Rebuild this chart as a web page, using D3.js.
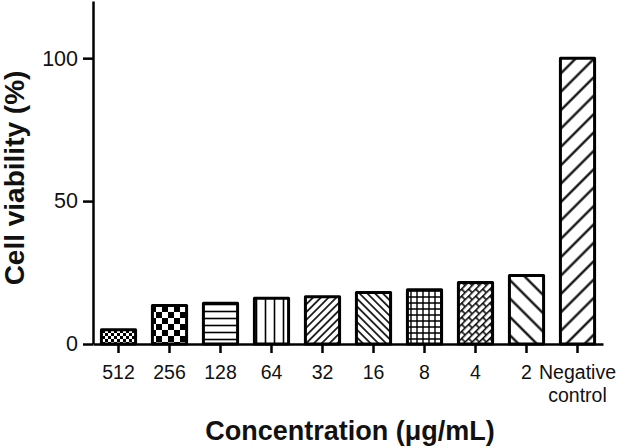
<!DOCTYPE html>
<html><head><meta charset="utf-8">
<script src="https://cdn.jsdelivr.net/npm/d3@7"></script>
<style>body{margin:0;background:#fff}svg{display:block}text{font-family:"Liberation Sans",Arial,sans-serif;fill:#111}</style>
</head><body><svg id="c" width="634" height="448"></svg>
<script>
const categories = ["512","256","128","64","32","16","8","4","2","Negative control"];
const viability = [5, 13.5, 14.3, 16, 16.5, 18, 19, 21.5, 24, 100];
const patternIds = ["chk3","chk6","hlines","vlines","diagR","diagL","grid","brick","wideL","wideR"];
const yTicks = [0, 50, 100];

const svg = d3.select("#c");
const x = d3.scaleBand().domain(categories).range([93, 603]).paddingInner(0.33).paddingOuter(0.165);
const y = d3.scaleLinear().domain([0, 120]).range([344, 1]);

const defs = svg.append("defs");
function pat(id, w, h, tr) {
  const p = defs.append("pattern").attr("id", id).attr("patternUnits", "userSpaceOnUse")
    .attr("width", w).attr("height", h);
  if (tr) p.attr("patternTransform", tr);
  p.append("rect").attr("width", w).attr("height", h).attr("fill", "#fff");
  return p;
}
let p;
p = pat("chk3", 6, 6); p.append("rect").attr("width",3).attr("height",3); p.append("rect").attr("x",3).attr("y",3).attr("width",3).attr("height",3);
p = pat("chk6", 12, 12); p.append("rect").attr("width",6).attr("height",6); p.append("rect").attr("x",6).attr("y",6).attr("width",6).attr("height",6);
p = pat("hlines", 10, 7); p.append("line").attr("x1",0).attr("x2",10).attr("y1",3.5).attr("y2",3.5).attr("stroke","#000").attr("stroke-width",1.6);
p = pat("vlines", 9, 10); p.append("line").attr("y1",0).attr("y2",10).attr("x1",4.5).attr("x2",4.5).attr("stroke","#000").attr("stroke-width",1.6);
p = pat("diagR", 5.5, 10, "rotate(45)"); p.append("line").attr("y1",0).attr("y2",10).attr("x1",2.75).attr("x2",2.75).attr("stroke","#000").attr("stroke-width",1.6);
p = pat("diagL", 5.5, 10, "rotate(-45)"); p.append("line").attr("y1",0).attr("y2",10).attr("x1",2.75).attr("x2",2.75).attr("stroke","#000").attr("stroke-width",1.6);
p = pat("grid", 6, 6); p.append("path").attr("d","M0,3H6M3,0V6").attr("stroke","#000").attr("stroke-width",1.4);
p = pat("brick", 10, 10, "rotate(-45)"); p.append("path").attr("d","M0,0.8H10M0,5.8H10M2,0.8V5.8M7,5.8V10.8").attr("stroke","#000").attr("stroke-width",1.5).attr("fill","none");
p = pat("wideL", 13, 20, "rotate(-45)"); p.append("line").attr("y1",0).attr("y2",20).attr("x1",6.5).attr("x2",6.5).attr("stroke","#000").attr("stroke-width",2.2);
p = pat("wideR", 13, 20, "rotate(45)"); p.append("line").attr("y1",0).attr("y2",20).attr("x1",6.5).attr("x2",6.5).attr("stroke","#000").attr("stroke-width",2.2);

// bars
svg.append("g").selectAll("rect").data(categories).join("rect")
  .attr("x", d => x(d))
  .attr("width", x.bandwidth())
  .attr("y", (d, i) => y(viability[i]))
  .attr("height", (d, i) => y(0) - y(viability[i]))
  .attr("fill", (d, i) => `url(#${patternIds[i]})`)
  .attr("stroke", "#000").attr("stroke-width", 3).attr("stroke-linejoin", "round");

// y axis
const ya = svg.append("g").attr("transform", "translate(93,0)")
  .call(d3.axisLeft(y).tickValues(yTicks).tickSize(10).tickPadding(5).tickSizeOuter(0));
ya.select(".domain").attr("stroke-width", 2.5).attr("stroke", "#000");
ya.selectAll(".tick line").attr("stroke-width", 2.5).attr("stroke", "#000");
ya.selectAll(".tick text").attr("font-size", 21.5).attr("fill", "#111").attr("font-family", "Liberation Sans, Arial, sans-serif");

// x axis
const xa = svg.append("g").attr("transform", "translate(0,344)")
  .call(d3.axisBottom(x).tickSize(9).tickSizeOuter(0).tickFormat(""));
xa.select(".domain").attr("stroke-width", 2.5).attr("stroke", "#000");
xa.selectAll(".tick line").attr("stroke-width", 2.5).attr("stroke", "#000");
xa.selectAll(".tick").each(function(d) {
  const t = d3.select(this).append("text").attr("text-anchor", "middle")
    .attr("font-size", 19.5).attr("fill", "#111").attr("font-family", "Liberation Sans, Arial, sans-serif");
  d.split(" ").forEach((w, i) => t.append("tspan").attr("x", 0).attr("y", 35 + i * 23).text(w));
});

// titles
svg.append("text").attr("x", 350).attr("y", 440).attr("text-anchor", "middle")
  .attr("font-size", 27).attr("font-weight", "bold").text("Concentration (μg/mL)");
svg.append("text").attr("transform", "translate(24,178) rotate(-90)").attr("text-anchor", "middle")
  .attr("font-size", 28).attr("font-weight", "bold").text("Cell viability (%)");
</script></body></html>
